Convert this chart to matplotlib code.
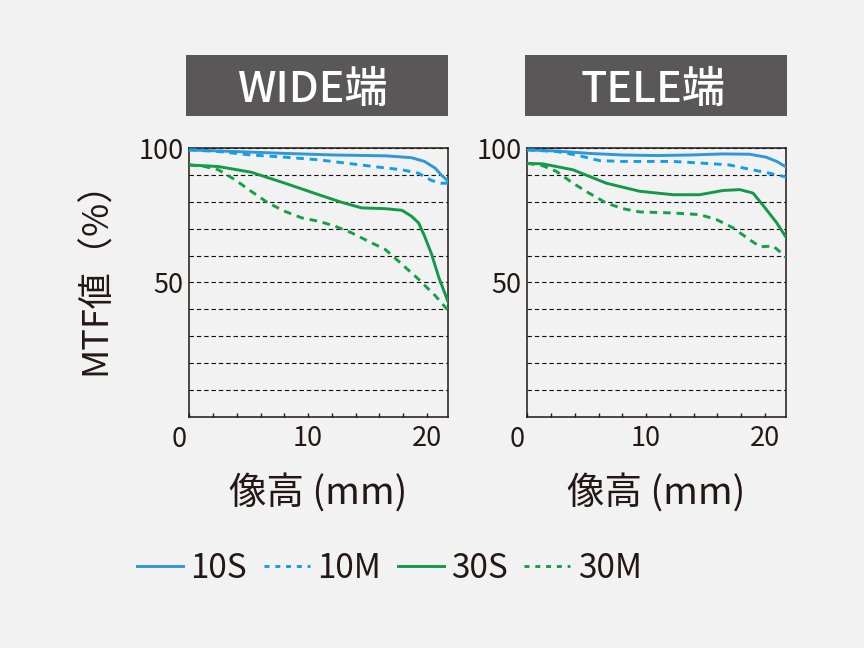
import matplotlib
matplotlib.use("Agg")
import matplotlib.pyplot as plt
from matplotlib.patches import Rectangle
from matplotlib.lines import Line2D

plt.rcParams['font.family'] = ['Noto Sans CJK JP', 'DejaVu Sans']

# ---------------- data ----------------
panel_titles = ["WIDE端", "TELE端"]
series_names = ["10S", "10M", "30S", "30M"]
x_ticks = [0, 2, 4, 6, 8, 10, 12, 14, 16, 18, 20]
x_tick_labels = ["", "", "", "", "", "10", "", "", "", "", "20"]
y_ticks = [0, 10, 20, 30, 40, 50, 60, 70, 80, 90, 100]
y_tick_labels = ["", "", "", "", "", "50", "", "", "", "", "100"]
x_label = "像高 (mm)"
y_label = "MTF値（%）"

# WIDE
wide_10s_x = [0, 3.84, 8.05, 12.26, 16.5, 18.7, 19.8, 20.7, 21.2, 21.8]
wide_10s_y = [99.4, 98.8, 98.1, 97.5, 97.2, 96.5, 95.1, 92.6, 90.1, 87.7]
wide_10m_x = [0, 2.45, 5.2, 8.05, 10.9, 13.7, 15.9, 17.9, 19.3, 20.4, 21.2, 21.8]
wide_10m_y = [99.4, 98.8, 97.5, 96.7, 95.7, 94.2, 93.0, 92.0, 90.7, 88.0, 87.0, 87.0]
wide_30s_x = [0, 2.45, 5.2, 8.05, 10.9, 12.8, 14.5, 16.5, 17.9, 18.7, 19.3, 19.8, 20.4, 21.0, 21.8]
wide_30s_y = [93.8, 93.2, 91.1, 87.0, 82.7, 79.9, 77.8, 77.5, 76.9, 74.7, 72.2, 67.3, 60.5, 51.9, 42.6]
wide_30m_x = [0, 1.3, 2.45, 3.84, 5.2, 6.65, 8.05, 9.45, 10.9, 12.26, 13.66, 15.06, 16.5, 17.9, 19.3, 20.7, 21.8]
wide_30m_y = [93.8, 93.2, 92.0, 88.3, 84.0, 79.6, 76.5, 74.1, 72.8, 71.0, 68.5, 65.4, 62.3, 56.8, 51.2, 45.1, 39.5]

# TELE
tele_10s_x = [0, 2.45, 5.2, 8.05, 10.9, 13.7, 16.5, 18.7, 20.1, 21.0, 21.8]
tele_10s_y = [99.4, 99.0, 98.1, 97.5, 97.3, 97.5, 97.9, 97.8, 96.7, 95.1, 93.0]
tele_10m_x = [0, 2.45, 4.1, 6.1, 8.05, 12.26, 15.0, 17.0, 18.7, 20.4, 21.8]
tele_10m_y = [99.4, 98.8, 97.5, 95.4, 95.1, 95.1, 94.4, 93.8, 92.2, 90.7, 89.3]
tele_30s_x = [0, 1.3, 3.84, 6.65, 9.45, 12.26, 14.5, 16.5, 17.9, 19.0, 19.8, 21.0, 21.8]
tele_30s_y = [94.4, 94.2, 92.0, 87.0, 84.0, 82.7, 82.7, 84.3, 84.6, 83.3, 79.0, 72.2, 66.7]
tele_30m_x = [0, 1.3, 2.45, 3.84, 5.2, 6.65, 8.05, 9.45, 12.26, 14.5, 15.9, 17.3, 18.7, 19.6, 20.7, 21.2, 21.8]
tele_30m_y = [94.4, 93.5, 91.4, 87.0, 83.3, 79.6, 77.5, 76.3, 75.9, 75.3, 73.5, 70.4, 66.0, 63.3, 63.6, 61.7, 59.3]

panels = [
    [(wide_10s_x, wide_10s_y), (wide_10m_x, wide_10m_y), (wide_30s_x, wide_30s_y), (wide_30m_x, wide_30m_y)],
    [(tele_10s_x, tele_10s_y), (tele_10m_x, tele_10m_y), (tele_30s_x, tele_30s_y), (tele_30m_x, tele_30m_y)],
]

# ---------------- style ----------------
BG = '#f2f2f2'
INK = '#231815'
colors = ['#2e98d8', '#0fa0e6', '#12994a', '#14a04a']
plot_dash = (0, (2.6, 2.0))
legend_dash = (0, (1.7, 2.0))
styles = ['-', plot_dash, '-', plot_dash]
legend_styles = ['-', legend_dash, '-', legend_dash]
LW = 2.1

W, H = 864, 648
fig = plt.figure(figsize=(W / 100, H / 100), dpi=100, facecolor=BG)

ax_left_px = [189.3, 527.3]
ax_w_px = 258.4
ax_top_px, ax_bot_px = 148.3, 416.7
box_px = [(186, 447.7), (525, 786.7)]
title_cx = [312, 653]

axes = []
for i in range(2):
    ax = fig.add_axes([ax_left_px[i] / W, 1 - ax_bot_px / H, ax_w_px / W, (ax_bot_px - ax_top_px) / H])
    ax.set_facecolor(BG)
    ax.set_axisbelow(True)
    for (xs, ys), c, ls in zip(panels[i], colors, styles):
        ax.plot(xs, ys, color=c, linestyle=ls, linewidth=LW, zorder=3)
    ax.set_xlim(0, 21.75)
    ax.set_ylim(0, 100)
    ax.set_xticks(x_ticks)
    ax.set_xticklabels(x_tick_labels)
    ax.set_yticks(y_ticks)
    ax.set_yticklabels(y_tick_labels)
    ax.tick_params(axis='x', direction='in', length=2.9, width=1.0, color=INK,
                   labelsize=19.5, labelcolor=INK, pad=6.3)
    ax.tick_params(axis='y', length=0, labelsize=19.5, labelcolor=INK, pad=4.2)
    ax.yaxis.grid(True, color='#111111', linewidth=0.8, linestyle=(0, (4, 2.6)))
    for s in ax.spines.values():
        s.set_color(INK)
        s.set_linewidth(1.1)
    # shared origin label "0", placed left of the corner
    ax.text(-0.81, -0.1118, "0", transform=ax.get_xaxis_transform(), ha='center', va='baseline',
            fontsize=19.5, color=INK)
    ax.set_xlabel(x_label, fontsize=27, color=INK)
    ax.xaxis.set_label_coords(0.5, -0.325)
    ax.xaxis.label.set_va('baseline')
    # title box
    x0, x1 = box_px[i]
    fig.add_artist(Rectangle((x0 / W, 1 - 116 / H), (x1 - x0) / W, 61 / H,
                             transform=fig.transFigure, facecolor='#595757', edgecolor='none'))
    fig.text(title_cx[i] / W, 1 - 101.7 / H, panel_titles[i], color='white', fontsize=31,
             fontweight='medium', ha='center', va='baseline')
    axes.append(ax)

axes[0].set_ylabel(y_label, fontsize=26, color=INK)
axes[0].yaxis.set_label_coords(-0.361, 0.552)
axes[0].yaxis.label.set_va('center')

handles = [Line2D([], [], color=c, linestyle=ls, linewidth=LW) for c, ls in zip(colors, legend_styles)]
fig.legend(handles, series_names, ncol=4, loc='center', bbox_to_anchor=(389.5 / W, 1 - 568 / H),
           frameon=False, fontsize=24, handlelength=1.38, handletextpad=0.22, columnspacing=0.5,
           labelcolor=INK, borderpad=0, borderaxespad=0)

fig.savefig('out.png', dpi=100, facecolor=BG)
